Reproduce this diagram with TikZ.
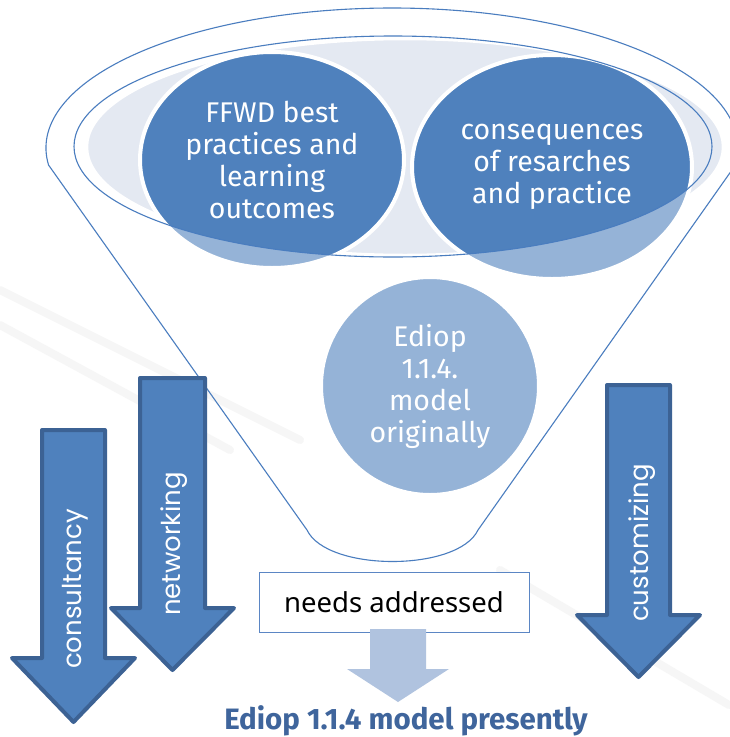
\documentclass[tikz,border=0pt]{standalone}
\usepackage{fontspec}
\usepackage{tikz}
\usetikzlibrary{shapes.geometric,positioning,calc}

\newfontfamily\circfont{Fira Sans}
\newfontfamily\arrowfont{Poppins}
\newfontfamily\boxfont{Noto Sans}

\definecolor{fdark}{HTML}{4F81BD}
\definecolor{flight}{HTML}{95B3D7}
\definecolor{fedge}{HTML}{3C6294}
\definecolor{fline}{HTML}{4A7DBF}
\definecolor{fmist}{HTML}{E4E9F2}
\definecolor{fpale}{HTML}{B0C3DF}
\definecolor{fbox}{HTML}{5B86C4}
\definecolor{ftitle}{HTML}{3F659C}
\definecolor{fstreak}{HTML}{F6F6F6}

\tikzset{
  funnel/.style={draw=fline, line width=1.1pt},
  mist/.style={fill=fmist, draw=white, line width=2.5pt},
  topcirc/.style={ellipse, fill=flight, draw=white, line width=4pt, text=white,
    align=center, inner sep=0pt, font=\circfont\fontsize{28.5}{32}\selectfont},
  arrowbox/.style={fill=fdark, draw=fedge, line width=4pt, line join=round},
  arrowlabel/.style={rotate=90, text=white, inner sep=0pt,
    font=\arrowfont\fontsize{26}{30}\selectfont},
  streak/.style={line width=8pt, draw=fstreak, line cap=round},
}

% block arrow pointing down: style, shaft left, shaft right, top, head base, overhang, tip
\newcommand{\downblock}[7]{%
  \path[#1] (#2,#4) -- (#3,#4) -- (#3,#5) -- ({#3+#6},#5) -- ({(#2+#3)/2},#7)
    -- ({#2-#6},#5) -- (#2,#5) -- cycle;}

\begin{document}
\begin{tikzpicture}[x=1pt, y=-1pt]
  \useasboundingbox (0,0) rectangle (729,737);
  \fill[white] (0,0) rectangle (729,737);

  % faint background streaks
  \draw[streak] (0,290) -- (300,440);
  \draw[streak] (0,325) -- (230,450);
  \draw[streak] (500,570) -- (729,705);

  % funnel outline
  \draw[funnel] (392,148) ++(173:346 and 140)
    arc[start angle=173, end angle=367, x radius=346, y radius=140]
    -- (478,530) .. controls (458,572) and (327,572) .. (307,530) -- cycle;

  % mouth of the funnel
  \coordinate (mouth) at (393,146.5);
  \path[mist] (405,147) ellipse [x radius=318, y radius=108];

  % the two inputs, darker inside the mouth
  \node[topcirc, minimum width=264pt, minimum height=216pt,
    path picture={\fill[fdark] (mouth) ellipse [x radius=319, y radius=110.5];}]
    (ffwd) at (272,160) {FFWD best\\practices and\\learning\\outcomes};
  \node[topcirc, minimum width=280pt, minimum height=224pt,
    path picture={\fill[fdark] (mouth) ellipse [x radius=319, y radius=110.5];}]
    (cons) at (552,167) {consequences\\of resarches\\and practice};

  \draw[funnel] (mouth) ellipse [x radius=319, y radius=110.5];

  % what falls through
  \node[topcirc, minimum width=218pt, minimum height=218pt]
    (orig) at (430,386) {Ediop\\1.1.4.\\model\\originally};

  % side arrows
  \downblock{arrowbox}{42}{105}{430}{658}{30}{722}
  \downblock{arrowbox}{140}{205}{378}{608}{29}{670}
  \downblock{arrowbox}{607}{670}{385}{615}{30}{677}
  \node[arrowlabel] (consult) at (75,589) {consultancy};
  \node[arrowlabel] (network) at (174,544) {networking};
  \node[arrowlabel] (custom) at (642,543) {customizing};

  % output
  \node[draw=fbox, line width=0.8pt, fill=white, minimum width=270pt,
    minimum height=60pt, inner sep=0pt,
    font=\boxfont\fontsize{27.5}{30}\selectfont] (needs) at (394,602) {needs addressed};
  \downblock{fill=fpale}{370}{426}{629}{669}{23}{702}
  \node[text=ftitle, inner sep=0pt,
    font=\circfont\bfseries\fontsize{29.5}{32}\selectfont] (title) at (406,721)
    {Ediop 1.1.4 model presently};
\end{tikzpicture}
\end{document}
